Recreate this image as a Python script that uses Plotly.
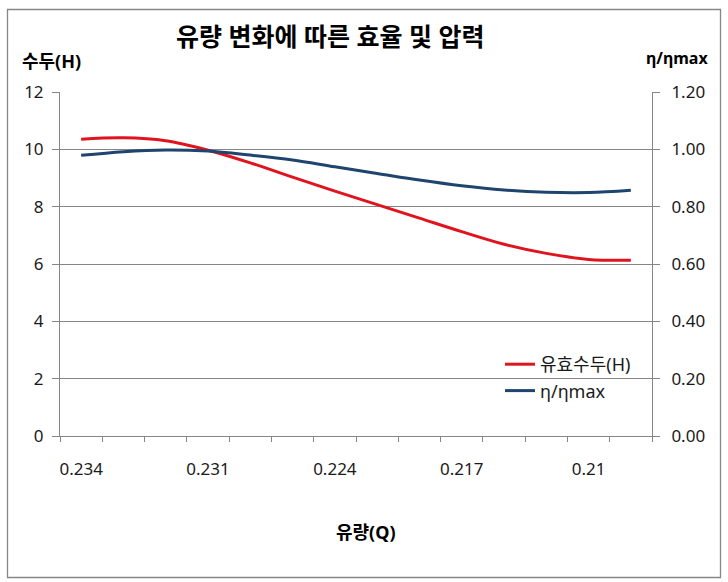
import plotly.graph_objects as go

# ---- data ----
flow_labels = ["0.234", "", "", "0.231", "", "", "0.224", "", "", "0.217", "", "", "0.21", ""]
head_H = [10.35, 10.40, 10.30, 9.97, 9.53, 9.03, 8.54, 8.07, 7.60, 7.13, 6.69, 6.37, 6.16, 6.13]
eff_ratio = [0.979, 0.992, 0.998, 0.994, 0.980, 0.963, 0.939, 0.916, 0.893, 0.873, 0.858, 0.850, 0.849, 0.857]
left_ticks = [0, 2, 4, 6, 8, 10, 12]
right_ticks = [0.0, 0.2, 0.4, 0.6, 0.8, 1.0, 1.2]

idx = list(range(len(flow_labels)))
boundaries = [i - 0.5 for i in range(len(flow_labels) + 1)]

KFONT = "Noto Sans, Noto Sans CJK KR, sans-serif"
GRID = "#868686"
W, H = 728, 582
L, R, T, B = 60, 76, 92, 146
pw, ph = W - L - R, H - T - B

def px_x(x):
    return (x - L) / pw

def px_y(y):
    return (H - B - y) / ph

fig = go.Figure()
fig.add_trace(go.Scatter(x=idx, y=head_H, name="유효수두(H)", mode="lines",
                         line=dict(color="#e0141e", width=3, shape="spline", smoothing=1.0)))
fig.add_trace(go.Scatter(x=idx, y=eff_ratio, name="η/ηmax", mode="lines", yaxis="y2",
                         line=dict(color="#1f456e", width=3, shape="spline", smoothing=1.0)))

fig.update_layout(
    width=W, height=H,
    margin=dict(l=L, r=R, t=T, b=B),
    paper_bgcolor="white", plot_bgcolor="white",
    font=dict(family=KFONT, size=17, color="#1a1a1a"),
    showlegend=True,
    legend=dict(x=px_x(500), y=px_y(346), xanchor="left", yanchor="top",
                bgcolor="rgba(0,0,0,0)", font=dict(size=18, family=KFONT),
                tracegroupgap=0, itemwidth=30),
    xaxis=dict(range=[-0.5, len(flow_labels) - 0.5], tickmode="array", tickvals=idx,
               ticktext=flow_labels, ticks="", showgrid=False, zeroline=False,
               showline=True, linecolor=GRID, linewidth=1, ticklabelstandoff=18,
               minor=dict(tickmode="array", tickvals=boundaries, ticks="outside",
                          ticklen=5, tickcolor=GRID, showgrid=False),
               tickfont=dict(size=17)),
    yaxis=dict(range=[0, 12], tickmode="array", tickvals=left_ticks, showgrid=True,
               gridcolor=GRID, gridwidth=1, zeroline=False, showline=True,
               linecolor=GRID, linewidth=1, ticks="outside", ticklen=7, tickcolor=GRID,
               ticklabelstandoff=5, tickfont=dict(size=17)),
    yaxis2=dict(range=[0, 1.2], tickmode="array", tickvals=right_ticks, tickformat=".2f",
                overlaying="y", side="right", showgrid=False, zeroline=False,
                showline=True, linecolor=GRID, linewidth=1, ticks="outside", ticklen=7,
                tickcolor=GRID, ticklabelstandoff=8, tickfont=dict(size=17)),
)

# chart-area border
fig.add_shape(type="rect", xref="paper", yref="paper",
              x0=px_x(7.5), x1=px_x(720.5), y0=px_y(577.5), y1=px_y(9.5),
              line=dict(color=GRID, width=1.3), fillcolor="rgba(0,0,0,0)", layer="below")

fig.add_annotation(text="<b>유량 변화에 따른 효율 및 압력</b>", xref="paper", yref="paper",
                   x=px_x(330), y=px_y(36), xanchor="center", yanchor="middle",
                   showarrow=False, font=dict(size=25, family=KFONT, color="#000"))
fig.add_annotation(text="<b>수두(H)</b>", xref="paper", yref="paper",
                   x=px_x(20), y=px_y(61), xanchor="left", yanchor="middle",
                   showarrow=False, font=dict(size=18, family=KFONT, color="#000"))
fig.add_annotation(text="<b>η/ηmax</b>", xref="paper", yref="paper",
                   x=px_x(710), y=px_y(58), xanchor="right", yanchor="middle",
                   showarrow=False, font=dict(size=16, family=KFONT, color="#000"))
fig.add_annotation(text="<b>유량(Q)</b>", xref="paper", yref="paper",
                   x=px_x(366), y=px_y(532), xanchor="center", yanchor="middle",
                   showarrow=False, font=dict(size=18, family=KFONT, color="#000"))

fig.write_html("out.html", config={"displayModeBar": False},
               post_script="document.body.style.margin='0';document.body.style.overflow='hidden';")
